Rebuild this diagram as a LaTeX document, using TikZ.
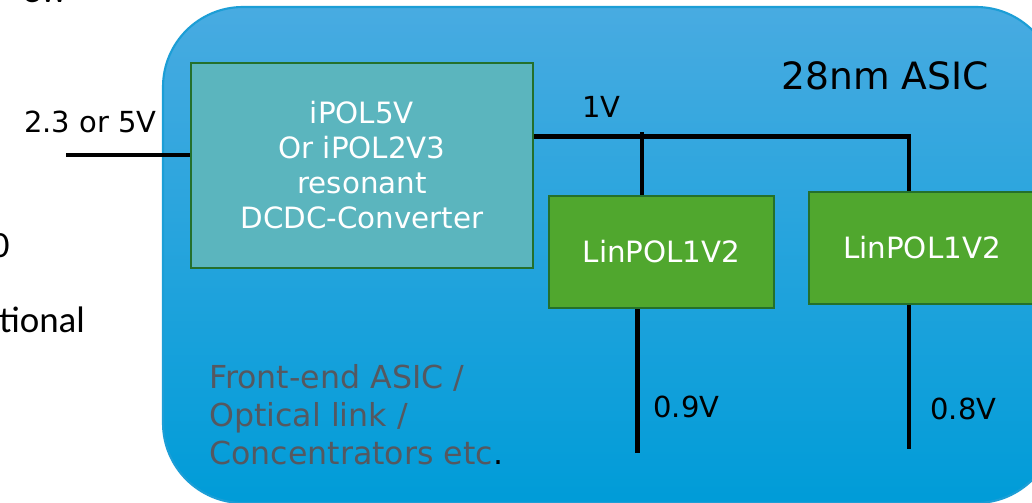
\documentclass[tikz,border=0pt]{standalone}
\usepackage{fontspec}
\setmainfont{DejaVu Sans}
\newfontfamily\slidefont{Carlito}
\usetikzlibrary{positioning}
\definecolor{asictop}{RGB}{72,171,225}
\definecolor{asicbot}{RGB}{0,156,216}
\definecolor{asicedge}{RGB}{28,158,214}
\definecolor{ipolfill}{RGB}{91,181,190}
\definecolor{boxedge}{RGB}{36,112,44}
\definecolor{linfill}{RGB}{80,167,46}
\definecolor{notegray}{RGB}{85,88,96}
\begin{document}
\begin{tikzpicture}[
    wire/.style={line width=2.3pt},
    block/.style={draw=boxedge,line width=1.6pt,text=white,align=center,inner sep=0pt,
      font=\fontsize{16.7}{19.9}\selectfont},
    volt/.style={inner sep=0pt,font=\fontsize{16.5}{19.9}\selectfont},
    slide/.style={inner sep=0pt,font=\slidefont\fontsize{21}{25}\selectfont}]
  \useasboundingbox (0,0) rectangle (20.64,10.04);
  \clip (0,0) rectangle (20.64,10.04);
  % chip outline
  \shadedraw[top color=asictop,bottom color=asicbot,draw=asicedge,line width=1.2pt,
    rounded corners=1.6cm] (3.26,-0.02) rectangle (21.12,9.90);
  % regulators
  \node[block,fill=ipolfill,minimum width=6.84cm,minimum height=4.10cm] (ipol) at (7.24,6.73)
    {iPOL5V\\Or iPOL2V3\\resonant\\DCDC-Converter};
  \node[block,fill=linfill,minimum width=4.50cm,minimum height=2.24cm] (lin1) at (13.23,5.00) {LinPOL1V2};
  \node[block,fill=linfill,minimum width=4.52cm,minimum height=2.24cm] (lin2) at (18.44,5.08) {LinPOL1V2};
  % supply lines
  \coordinate (in) at (1.32,6.94);
  \coordinate (tap1) at (12.84,7.40);
  \coordinate (tap2) at (18.18,7.31);
  \coordinate (out1) at (12.75,0.98);
  \coordinate (out2) at (18.18,1.06);
  \draw[wire] (in) -- (in -| ipol.west);
  \draw[wire] (ipol.east |- tap2) -- (tap2) -- (tap2 |- lin2.north);
  \draw[wire] (tap1) -- (tap1 |- lin1.north);
  \draw[wire] (out1 |- lin1.south) -- (out1);
  \draw[wire] (out2 |- lin2.south) -- (out2);
  % voltages
  \node[volt,anchor=east] (vin) at (3.14,7.60) {2.3 or 5V};
  \node[volt,anchor=west] (v1) at (11.64,7.90) {1V};
  \node[volt,anchor=west] (v09) at (13.06,1.90) {0.9V};
  \node[volt,anchor=west] (v08) at (18.60,1.86) {0.8V};
  \node[inner sep=0pt,font=\fontsize{21.4}{25}\selectfont] (chip) at (17.70,8.52) {28nm ASIC};
  \node[inner sep=0pt,anchor=west,align=left,text=notegray,font=\fontsize{18}{21.6}\selectfont]
    (uses) at (4.18,1.74) {Front-end ASIC /\\Optical link /\\Concentrators etc\textcolor{black}{.}};
  % slide text cut at the edge
  \node[slide,anchor=base west] (frag1) at (-0.02,3.40) {tional};
  \node[slide,anchor=base east] (frag2) at (0.20,4.90) {0};
  \node[slide,anchor=base west] (frag3) at (0.44,9.99) {ew};
\end{tikzpicture}
\end{document}
